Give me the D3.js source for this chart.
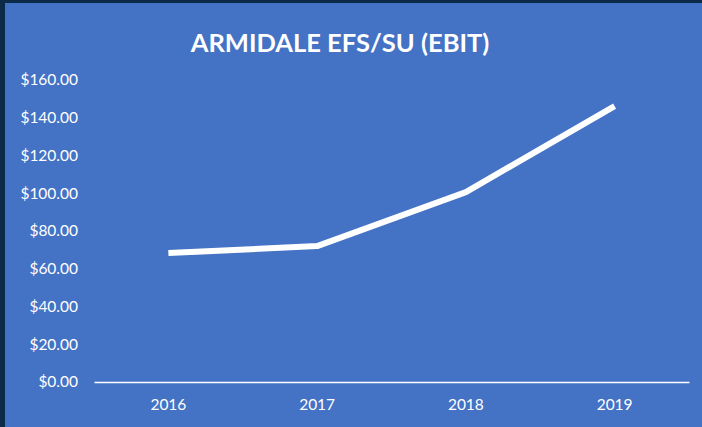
<!DOCTYPE html>
<html>
<head>
<meta charset="utf-8">
<script src="https://cdn.jsdelivr.net/npm/d3@7"></script>
<style>
  body { margin: 0; background: #0b2b48; }
  svg { display: block; }
  .tick text { font-family: Lato, "Open Sans", sans-serif; }
</style>
</head>
<body>
<div id="chart"></div>
<script>
// chart values
var years = ['2016', '2017', '2018', '2019'];
var ebit = [68.3, 72.0, 100.6, 146.2];
var yTicks = [0, 20, 40, 60, 80, 100, 120, 140, 160];
var title = 'ARMIDALE EFS/SU (EBIT)';

var W = 702, H = 427;
var svg = d3.select('#chart').append('svg')
    .attr('width', W)
    .attr('height', H);

// dark frame, blue plot panel
svg.append('rect').attr('width', W).attr('height', H).attr('fill', '#0b2b48');
svg.append('rect')
    .attr('x', 5).attr('y', 3)
    .attr('width', W - 5).attr('height', H - 3)
    .attr('fill', '#4472c4');

var xScale = d3.scaleBand()
    .domain(years)
    .range([94, 689]);

var yScale = d3.scaleLinear()
    .domain([0, 160])
    .range([382, 80]);

// y axis labels only (no line, no ticks)
var yAxis = d3.axisLeft(yScale)
    .tickValues(yTicks)
    .tickSize(0)
    .tickPadding(0)
    .tickFormat(function (d) { return '$' + d3.format('.2f')(d); });
var gy = svg.append('g')
    .attr('transform', 'translate(78,0)')
    .call(yAxis);
gy.select('.domain').remove();
gy.selectAll('text')
    .attr('fill', '#ffffff')
    .style('font-size', '15.5px');

// x axis
var xAxis = d3.axisBottom(xScale).tickSize(0).tickPadding(17);
var gx = svg.append('g')
    .attr('transform', 'translate(0,382)')
    .call(xAxis);
gx.select('.domain').attr('stroke', '#ffffff').attr('stroke-width', 1.5);
gx.selectAll('text')
    .attr('fill', '#ffffff')
    .style('font-size', '15.5px');

// line
var line = d3.line()
    .x(function (d, i) { return xScale(years[i]) + xScale.bandwidth() / 2; })
    .y(function (d) { return yScale(d); });
svg.append('path')
    .datum(ebit)
    .attr('d', line)
    .attr('fill', 'none')
    .attr('stroke', '#ffffff')
    .attr('stroke-width', 6)
    .attr('stroke-linejoin', 'round');

// title
svg.append('text')
    .attr('x', 340)
    .attr('y', 52)
    .attr('text-anchor', 'middle')
    .attr('fill', '#ffffff')
    .style('font-family', 'Lato, "Open Sans", sans-serif')
    .style('font-weight', 'bold')
    .style('font-size', '25.5px')
    .text(title);
</script>
</body>
</html>
